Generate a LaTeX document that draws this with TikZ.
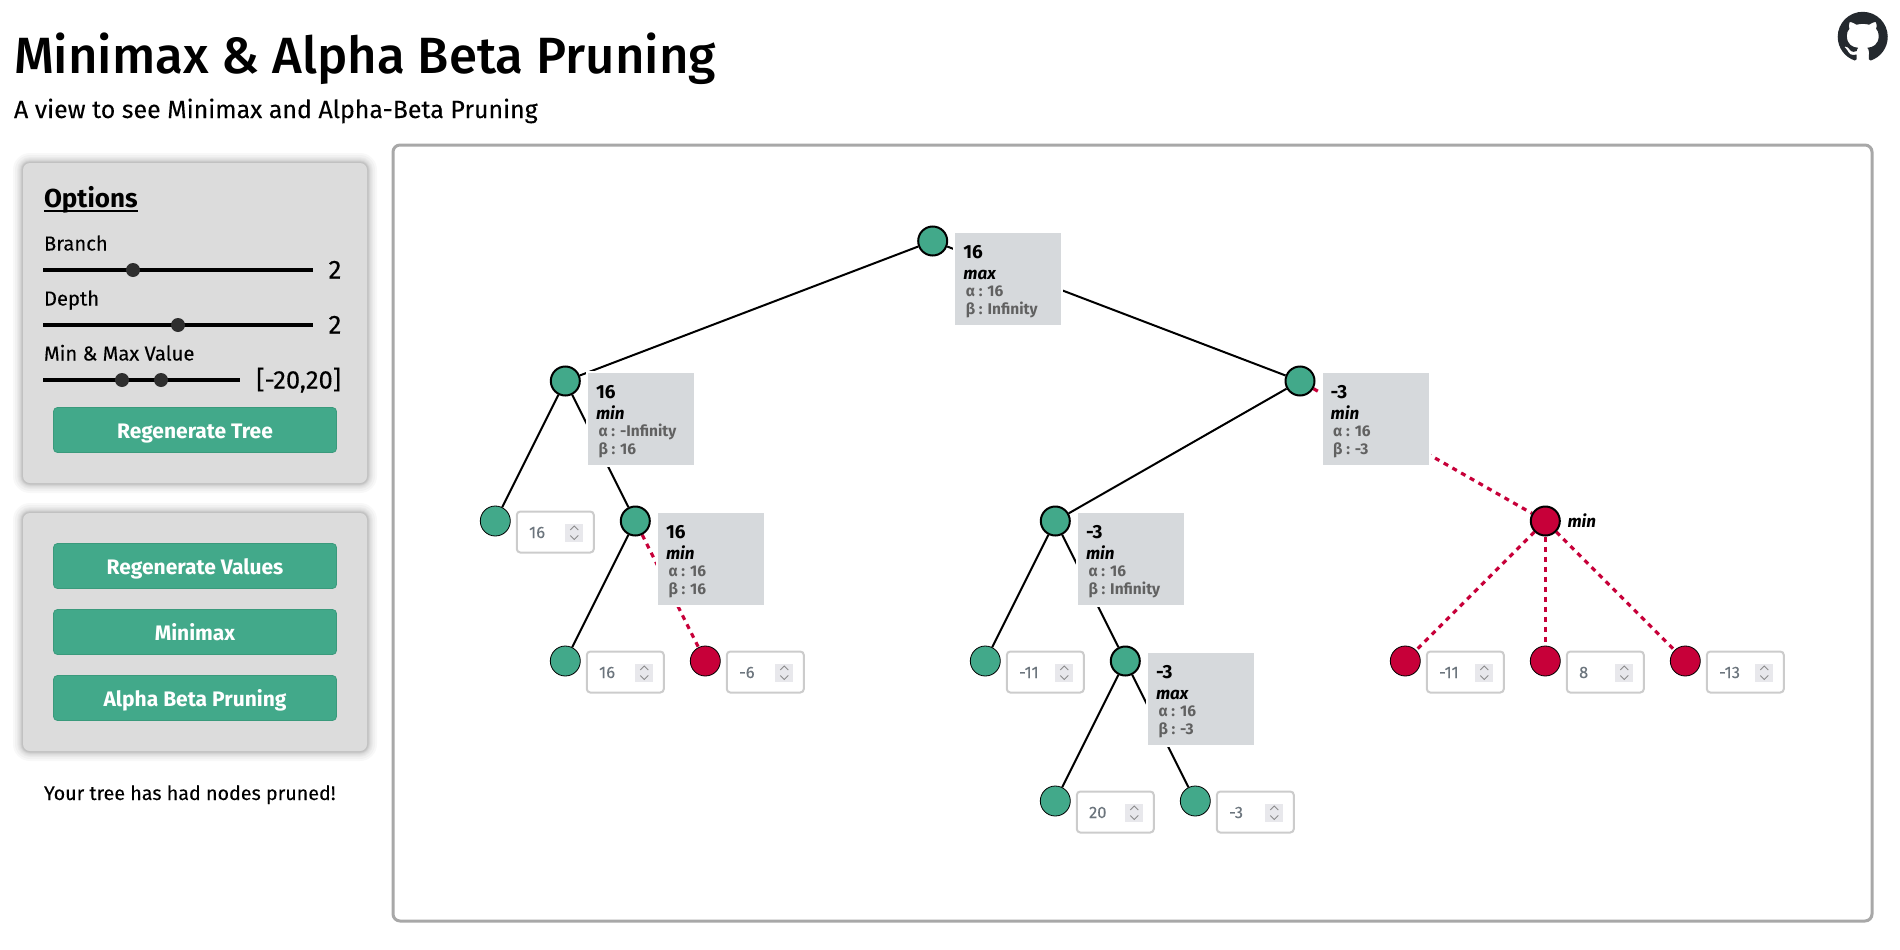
\documentclass[tikz,border=0pt]{standalone}
\usepackage{fontspec}
\setmainfont{Fira Sans}
\newfontfamily\medfont{Fira Sans Medium}
\newfontfamily\bookfont{Fira Sans}[FakeBold=0.15]
\usepackage{xcolor}
\usepackage{tikz}
\usetikzlibrary{backgrounds,svg.path}
\definecolor{greenc}{HTML}{42A98A}
\definecolor{greenb}{HTML}{3A9A7C}
\definecolor{redc}{HTML}{C70039}
\definecolor{panelc}{HTML}{DCDCDC}
\definecolor{infoc}{HTML}{D6D9DC}
\definecolor{framec}{HTML}{A8A8A8}
\definecolor{inputc}{HTML}{CCCCCC}
\definecolor{spinc}{HTML}{E8E8EC}
\definecolor{numc}{HTML}{6C757D}
\definecolor{knobc}{HTML}{2E2E2E}
\definecolor{octoc}{HTML}{24292E}
\newcommand{\fsz}[1]{\fontsize{#1}{#1}\selectfont}
% box beside an inner tree node
\newcommand{\infobox}[6]{%
  \node[infobox,anchor=north west] (#1) at ([shift={(21.7,-9)}]#2.center) {};
  \node[valtxt] (#1v) at ([shift={(9,26.8)}]#1.north west) {#3};
  \node[kindtxt] (#1k) at ([shift={(9,47)}]#1.north west) {#4};
  \node[abtxt] (#1a) at ([shift={(11.5,64.8)}]#1.north west) {α : #5};
  \node[abtxt] (#1b) at ([shift={(11.5,82.8)}]#1.north west) {β : #6};
}
% number input beside a leaf
\newcommand{\leafinput}[2]{%
  \node[inputbox,anchor=north west] (#1i) at ([shift={(21.5,-9.5)}]#1.center) {};
  \node[numtxt] (#1t) at ([shift={(12.3,26.5)}]#1i.north west) {#2};
  \node[spinbox,anchor=north west] (#1s) at ([shift={(48.5,12.5)}]#1i.north west) {};
  \draw[chevron] ([shift={(-4,6)}]#1s.north) -- ([shift={(0,2)}]#1s.north) -- ([shift={(4,6)}]#1s.north);
  \draw[chevron] ([shift={(-4,11.5)}]#1s.north) -- ([shift={(0,15.5)}]#1s.north) -- ([shift={(4,11.5)}]#1s.north);
}
\begin{document}
\begin{tikzpicture}[x=1pt,y=-1pt,
  txt/.style={anchor=base west,inner sep=0pt,outer sep=0pt},
  panel/.style={fill=panelc,rounded corners=7pt,inner sep=0pt,outer sep=0pt},
  btn/.style={draw=greenb,fill=greenc,rounded corners=4pt,line width=.8pt,minimum width=283pt,
              minimum height=45pt,inner sep=0pt,text=white,font=\fsz{21}\bfseries,
              text height=16.6pt,text depth=0pt},
  track/.style={line width=4pt,black},
  knob/.style={circle,fill=knobc,minimum size=14pt,inner sep=0pt},
  inner/.style={circle,fill=greenc,draw=black,line width=2pt,minimum size=29pt,inner sep=0pt},
  leaf/.style={circle,fill=greenc,draw=black,line width=.8pt,minimum size=30pt,inner sep=0pt},
  prunedin/.style={inner,fill=redc},
  prunedleaf/.style={leaf,fill=redc},
  edge/.style={black,line width=2pt},
  prunededge/.style={redc,line width=3.2pt,dash pattern=on 5pt off 5pt},
  infobox/.style={draw=white,line width=2pt,fill=infoc,minimum width=108pt,minimum height=94pt,
                  inner sep=0pt,outer sep=0pt},
  valtxt/.style={txt,font=\fsz{19}\bfseries},
  kindtxt/.style={txt,font=\fsz{17}\bfseries\itshape},
  abtxt/.style={txt,font=\fsz{15.5}\bfseries,text=black!62},
  inputbox/.style={draw=inputc,line width=2pt,fill=white,rounded corners=3.5pt,minimum width=77pt,
                   minimum height=41pt,inner sep=0pt,outer sep=0pt},
  numtxt/.style={txt,font=\fsz{16.5}\bookfont,text=numc},
  spinbox/.style={fill=spinc,minimum width=18pt,minimum height=18pt,inner sep=0pt,outer sep=0pt},
  chevron/.style={draw=black!45,line width=.9pt},
]
\useasboundingbox (0,0) rectangle (1900,950);
\node[txt,font=\fsz{51}\medfont] (title) at (14,74) {Minimax \& Alpha Beta Pruning};
\node[txt,font=\fsz{24.9}\bookfont] (subtitle) at (14,118) {A view to see Minimax and Alpha-Beta Pruning};
\fill[octoc,shift={(1837.7,11.8)},scale=3.125,yscale=-1] svg {M 8 0 C 3.58 0 0 3.58 0 8 c 0 3.54 2.29 6.53 5.47 7.59 0.4 0.07 0.55 -0.17 0.55 -0.38 0 -0.19 -0.01 -0.82 -0.01 -1.49 -2.01 0.37 -2.53 -0.49 -2.69 -0.94 -0.09 -0.23 -0.48 -0.94 -0.82 -1.13 -0.28 -0.15 -0.68 -0.52 -0.01 -0.53 0.63 -0.01 1.08 0.58 1.23 0.82 0.72 1.21 1.87 0.87 2.33 0.66 0.07 -0.52 0.28 -0.87 0.51 -1.07 -1.78 -0.2 -3.64 -0.89 -3.64 -3.95 0 -0.87 0.31 -1.59 0.82 -2.15 -0.08 -0.2 -0.36 -1.02 0.08 -2.12 0 0 0.67 -0.21 2.2 0.82 0.64 -0.18 1.32 -0.27 2 -0.27 0.68 0 1.36 0.09 2 0.27 1.53 -1.04 2.2 -0.82 2.2 -0.82 0.44 1.1 0.16 1.92 0.08 2.12 0.51 0.56 0.82 1.27 0.82 2.15 0 3.07 -1.87 3.75 -3.65 3.95 0.29 0.25 0.54 0.73 0.54 1.48 0 1.07 -0.01 1.93 -0.01 2.2 0 0.21 0.15 0.46 0.55 0.38 c 3.18 -1.06 5.46 -4.05 5.46 -7.59 c 0 -4.42 -3.58 -8 -8 -8 z};

\foreach \g in {1,1.5,2,2.5,3,4,5,6,8,10}
  \foreach \ya/\yb in {163/483,513/751}
    \fill[black,opacity=.028,rounded corners=7pt+\g pt] (23-\g,\ya-\g) rectangle (367+\g,\yb+\g);
\node[panel,minimum width=344pt,minimum height=320pt] (optpanel) at (195,323) {};
\node[panel,minimum width=344pt,minimum height=238pt] (runpanel) at (195,632) {};

\node[txt,font=\fsz{26}\bfseries] (options) at (44,207.3) {Options};
\draw[line width=2pt] ([yshift=-3.7pt]options.base west) -- ([yshift=-3.7pt]options.base east);
\node[txt,font=\fsz{20.2}\bookfont] (branch) at (44,250.5) {Branch};
\draw[track] (43,270) -- (313,270);
\node[knob] (branchknob) at (133,270) {};
\node[txt,font=\fsz{26}\bookfont] (branchval) at (328.5,278.5) {2};
\node[txt,font=\fsz{20.2}\bookfont] (depth) at (44,305.5) {Depth};
\draw[track] (43,325) -- (313,325);
\node[knob] (depthknob) at (178,325) {};
\node[txt,font=\fsz{26}\bookfont] (depthval) at (328.5,333.5) {2};
\node[txt,font=\fsz{20.2}\bookfont] (minmax) at (44,360.5) {Min \& Max Value};
\draw[track] (43,380) -- (240,380);
\node[knob] (minknob) at (122,380) {};
\node[knob] (maxknob) at (161,380) {};
\node[txt,font=\fsz{25.5}\bookfont,anchor=base east] (rangeval) at (341,388.5) {[-20,20]};
\node[btn] (regentree) at (195,430) {Regenerate Tree};
\node[btn] (regenval) at (195,566) {Regenerate Values};
\node[btn] (minimaxbtn) at (195,632) {Minimax};
\node[btn] (abbtn) at (195,698) {Alpha Beta Pruning};
\node[txt,font=\fsz{19.7}\bookfont] (status) at (44,800) {Your tree has had nodes pruned!};

\draw[framec,line width=3pt,rounded corners=7pt] (393,145) rectangle (1872,921);

\node[inner] (root) at (932.7,241) {};
\node[inner] (l) at (565.3,381) {};
\node[inner] (r) at (1300,381) {};
\node[leaf] (ll) at (495.3,521) {};
\node[inner] (lr) at (635.3,521) {};
\node[inner] (rl) at (1055.3,521) {};
\node[prunedin] (rr) at (1545.3,521) {};
\node[leaf] (lrl) at (565.3,661) {};
\node[prunedleaf] (lrr) at (705.3,661) {};
\node[leaf] (rll) at (985.3,661) {};
\node[inner] (rlr) at (1125.3,661) {};
\node[prunedleaf] (rra) at (1405.3,661) {};
\node[prunedleaf] (rrb) at (1545.3,661) {};
\node[prunedleaf] (rrc) at (1685.3,661) {};
\node[leaf] (rlrl) at (1055.3,801) {};
\node[leaf] (rlrr) at (1195.3,801) {};

\begin{scope}[on background layer]
  \foreach \p/\c in {root/l,root/r,l/ll,l/lr,lr/lrl,r/rl,rl/rll,rl/rlr,rlr/rlrl,rlr/rlrr}
    \draw[edge] (\p) -- (\c);
  \foreach \p/\c in {lr/lrr,r/rr,rr/rra,rr/rrb,rr/rrc}
    \draw[prunededge] (\p) -- (\c);
\end{scope}

\infobox{rootinfo}{root}{16}{max}{16}{Infinity}
\infobox{linfo}{l}{16}{min}{-Infinity}{16}
\infobox{lrinfo}{lr}{16}{min}{16}{16}
\infobox{rinfo}{r}{-3}{min}{16}{-3}
\infobox{rlinfo}{rl}{-3}{min}{16}{Infinity}
\infobox{rlrinfo}{rlr}{-3}{max}{16}{-3}
\node[kindtxt] (rrkind) at (1567.5,527.4) {min};

\leafinput{ll}{16}
\leafinput{lrl}{16}
\leafinput{lrr}{-6}
\leafinput{rll}{-11}
\leafinput{rlrl}{20}
\leafinput{rlrr}{-3}
\leafinput{rra}{-11}
\leafinput{rrb}{8}
\leafinput{rrc}{-13}
\end{tikzpicture}
\end{document}
